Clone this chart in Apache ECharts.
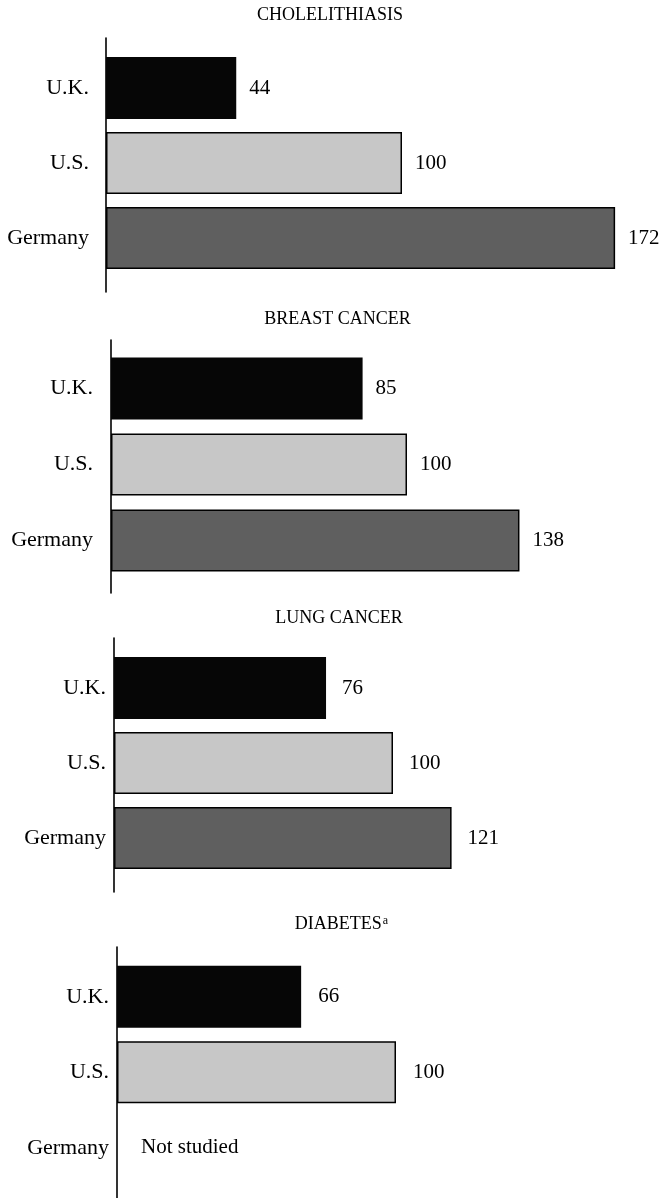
<!DOCTYPE html>
<html>
<head>
<meta charset="utf-8">
<script src="https://cdn.jsdelivr.net/npm/echarts@6/dist/echarts.min.js"></script>
<style>
html,body{margin:0;padding:0;background:#fff;}
#chart{width:664px;height:1198px;}
</style>
</head>
<body>
<div id="chart"></div>
<script>
// ---- data ----
const titles = ['CHOLELITHIASIS', 'BREAST CANCER', 'LUNG CANCER', 'DIABETES'];
const titleNotes = ['', '', '', 'a'];
const categories = ['U.K.', 'U.S.', 'Germany'];
const cholelithiasis = [44, 100, 172];
const breastCancer = [85, 100, 138];
const lungCancer = [76, 100, 121];
const diabetes = [66, 100, null];
const missingText = 'Not studied';

// ---- layout / style ----
const panelValues = [cholelithiasis, breastCancer, lungCancer, diabetes];
const layout = [
  {axisX: 106, lineTop: 38,  lineBottom: 292,  barTop: 50.5, barHeight: 225,   px: 2.96, titleX: 330,   titleY: 15.5, catMargin: 17, valDist: 13},
  {axisX: 111, lineTop: 340, lineBottom: 593,  barTop: 350.5, barHeight: 228,  px: 2.96, titleX: 337.5, titleY: 319,  catMargin: 18, valDist: 13},
  {axisX: 114, lineTop: 638, lineBottom: 892,  barTop: 650.5, barHeight: 225,  px: 2.79, titleX: 339,   titleY: 618,  catMargin: 8,  valDist: 16},
  {axisX: 117, lineTop: 947, lineBottom: 1198, barTop: 959,  barHeight: 226.5, px: 2.79, titleX: 341.5, titleY: 924,  catMargin: 8,  valDist: 17}
];
const barColors = ['#060606', '#c7c7c7', '#5f5f5f'];
const FONT = '"Liberation Serif", "Times New Roman", serif';
const X_MAX = 180;

const grid = [], xAxis = [], yAxis = [], series = [], graphic = [];

layout.forEach((L, i) => {
  // bar grid
  const gBar = grid.length;
  grid.push({left: L.axisX, top: L.barTop, height: L.barHeight, width: X_MAX * L.px, containLabel: false});
  xAxis.push({type: 'value', gridIndex: gBar, min: 0, max: X_MAX, show: false});
  yAxis.push({
    type: 'category', gridIndex: gBar, data: categories, inverse: true,
    axisLine: {show: false}, axisTick: {show: false}, splitLine: {show: false},
    axisLabel: {margin: L.catMargin, color: '#000', fontFamily: FONT, fontSize: 22}
  });
  const data = panelValues[i].map((v, k) => {
    if (v === null) {
      return {
        value: 0,
        itemStyle: {color: 'transparent', borderWidth: 0},
        label: {show: true, distance: 24, formatter: missingText}
      };
    }
    return {
      value: v,
      itemStyle: {color: barColors[k], borderColor: '#000', borderWidth: k === 0 ? 0 : 1.5}
    };
  });
  series.push({
    type: 'bar', xAxisIndex: gBar, yAxisIndex: gBar, barWidth: 62,
    data: data, animation: false, silent: true,
    label: {show: true, position: 'right', distance: L.valDist, color: '#000', fontFamily: FONT, fontSize: 21}
  });
  // axis line grid
  const gLine = grid.length;
  grid.push({left: L.axisX, top: L.lineTop, height: L.lineBottom - L.lineTop, width: 10});
  xAxis.push({type: 'value', gridIndex: gLine, min: 0, max: 1, show: false});
  yAxis.push({
    type: 'value', gridIndex: gLine, min: 0, max: 1,
    axisLine: {show: true, lineStyle: {color: '#000', width: 1.6}},
    axisTick: {show: false}, axisLabel: {show: false}, splitLine: {show: false}
  });
  // titles
  if (titleNotes[i]) {
    graphic.push({
      type: 'text', x: L.titleX, y: L.titleY,
      style: {
        text: '{m|' + titles[i] + '}{s|' + titleNotes[i] + '}',
        rich: {
          m: {fontFamily: FONT, fontSize: 18, fill: '#000'},
          s: {fontFamily: FONT, fontSize: 12, fill: '#000', verticalAlign: 'top', padding: [0, 0, 7, 1]}
        },
        align: 'center', verticalAlign: 'middle'
      }
    });
  } else {
    graphic.push({
      type: 'text', x: L.titleX, y: L.titleY,
      style: {text: titles[i], font: '18px ' + FONT, fill: '#000', align: 'center', verticalAlign: 'middle'}
    });
  }
});

const chart = echarts.init(document.getElementById('chart'), null, {renderer: 'canvas'});
chart.setOption({
  backgroundColor: '#fff',
  animation: false,
  grid, xAxis, yAxis, series, graphic
});
</script>
</body>
</html>
